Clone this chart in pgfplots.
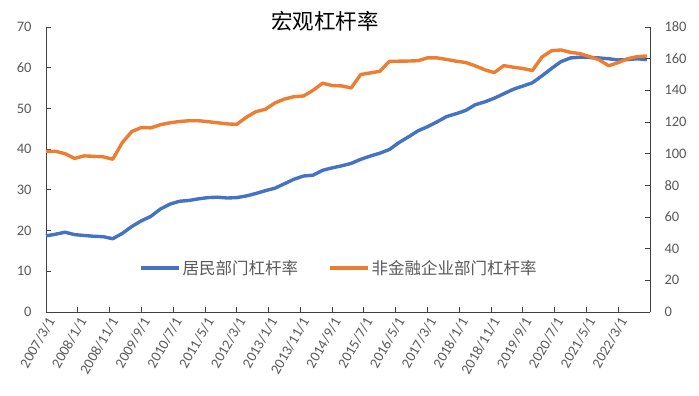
\documentclass[border=0pt]{standalone}
\usepackage{fontspec}
\setmainfont{Carlito}
\newfontfamily\cjk{Noto Sans CJK SC}
\usepackage{pgfplots}
\usepackage{pgfplotstable}
\pgfplotsset{compat=1.18}
\definecolor{cblue}{HTML}{4472C4}
\definecolor{corange}{HTML}{ED7D31}
\definecolor{tgray}{HTML}{595959}
\definecolor{agray}{HTML}{404040}

% month index: 0 = 2007/3, quarterly values
\pgfplotstableread{
m v
0 18.7
3 19.1
6 19.6
9 19.0
12 18.8
15 18.6
18 18.5
21 18.0
24 19.3
27 21.0
30 22.4
33 23.5
36 25.3
39 26.5
42 27.2
45 27.4
48 27.8
51 28.1
54 28.2
57 28.0
60 28.1
63 28.5
66 29.1
69 29.8
72 30.4
75 31.5
78 32.6
81 33.4
84 33.6
87 34.8
90 35.4
93 35.9
96 36.5
99 37.5
102 38.3
105 39.0
108 39.9
111 41.6
114 43.0
117 44.5
120 45.5
123 46.7
126 48.0
129 48.7
132 49.5
135 50.9
138 51.6
141 52.5
144 53.6
147 54.7
150 55.5
153 56.3
156 58.0
159 59.8
162 61.5
165 62.4
168 62.6
171 62.5
174 62.4
177 62.2
180 61.9
183 62.0
186 62.2
189 62.0
}\household

\pgfplotstableread{
m v
0 101.5
3 101.5
6 100.0
9 97.0
12 98.6
15 98.3
18 98.0
21 96.5
24 107.0
27 114.0
30 116.5
33 116.3
36 118.3
39 119.5
42 120.3
45 120.8
48 120.8
51 120.2
54 119.5
57 118.8
60 118.5
63 123.0
66 126.5
69 128.0
72 132.0
75 134.5
78 136.0
81 136.4
84 140.0
87 144.5
90 143.0
93 142.8
96 141.5
99 150.0
102 151.0
105 152.0
108 158.3
111 158.4
114 158.5
117 158.7
120 160.5
123 160.5
126 159.5
129 158.4
132 157.6
135 155.5
138 153.0
141 151.2
144 155.6
147 154.6
150 153.8
153 152.5
156 161.0
159 165.0
162 165.5
165 164.0
168 163.2
171 161.3
174 159.3
177 155.5
180 157.5
183 160.0
186 161.3
189 161.7
}\corporate

\pgfplotsset{
  base/.style={
    scale only axis, width=604pt, height=285pt,
    at={(46pt,84pt)}, anchor=south west,
    xmin=0, xmax=190,
    axis line style={agray, line width=0.8pt},
    tick style={agray, line width=0.8pt},
    major tick length=5pt, tick align=inside,
    ticklabel style={font=\fontsize{14.5}{16}\selectfont, text=tgray},
    /pgf/number format/assume math mode=true,
    clip=false,
  }
}

\begin{document}
\begin{tikzpicture}
\path[use as bounding box] (0pt,0pt) rectangle (699pt,396pt);
\begin{axis}[base,
  axis y line*=left, axis x line*=bottom,
  ymin=0, ymax=70, ytick={0,10,...,70},
  yticklabel style={xshift=-11pt},
  xtick={0,10,...,180},
  xticklabels={2007/3/1,2008/1/1,2008/11/1,2009/9/1,2010/7/1,2011/5/1,2012/3/1,2013/1/1,2013/11/1,2014/9/1,2015/7/1,2016/5/1,2017/3/1,2018/1/1,2018/11/1,2019/9/1,2020/7/1,2021/5/1,2022/3/1},
  xticklabel style={rotate=60, anchor=east, yshift=-8pt},
  legend style={draw=none, fill=none, at={(0.485,0.154)}, anchor=center,
    legend columns=2, font=\cjk\fontsize{16.5}{18}\selectfont, text=tgray,
    /tikz/every even column/.append style={column sep=28pt}},
  legend image code/.code={\draw[#1] (0pt,0pt) -- (38pt,0pt);},
]
\addplot[cblue, line width=3.4pt, line join=round] table[x=m,y=v] {\household};
\addlegendentry{居民部门杠杆率}
\addlegendimage{corange, line width=3.4pt}
\addlegendentry{非金融企业部门杠杆率}
\node[font=\cjk\fontsize{21.5}{24}\selectfont, text=black] at (rel axis cs:0.462,1.021) {宏观杠杆率};
\end{axis}
\begin{axis}[base,
  axis y line*=right, axis x line=none,
  ymin=0, ymax=180, ytick={0,20,...,180},
  yticklabel style={xshift=11pt},
]
\addplot[corange, line width=3.4pt, line join=round] table[x=m,y=v] {\corporate};
\end{axis}
\end{tikzpicture}
\end{document}
